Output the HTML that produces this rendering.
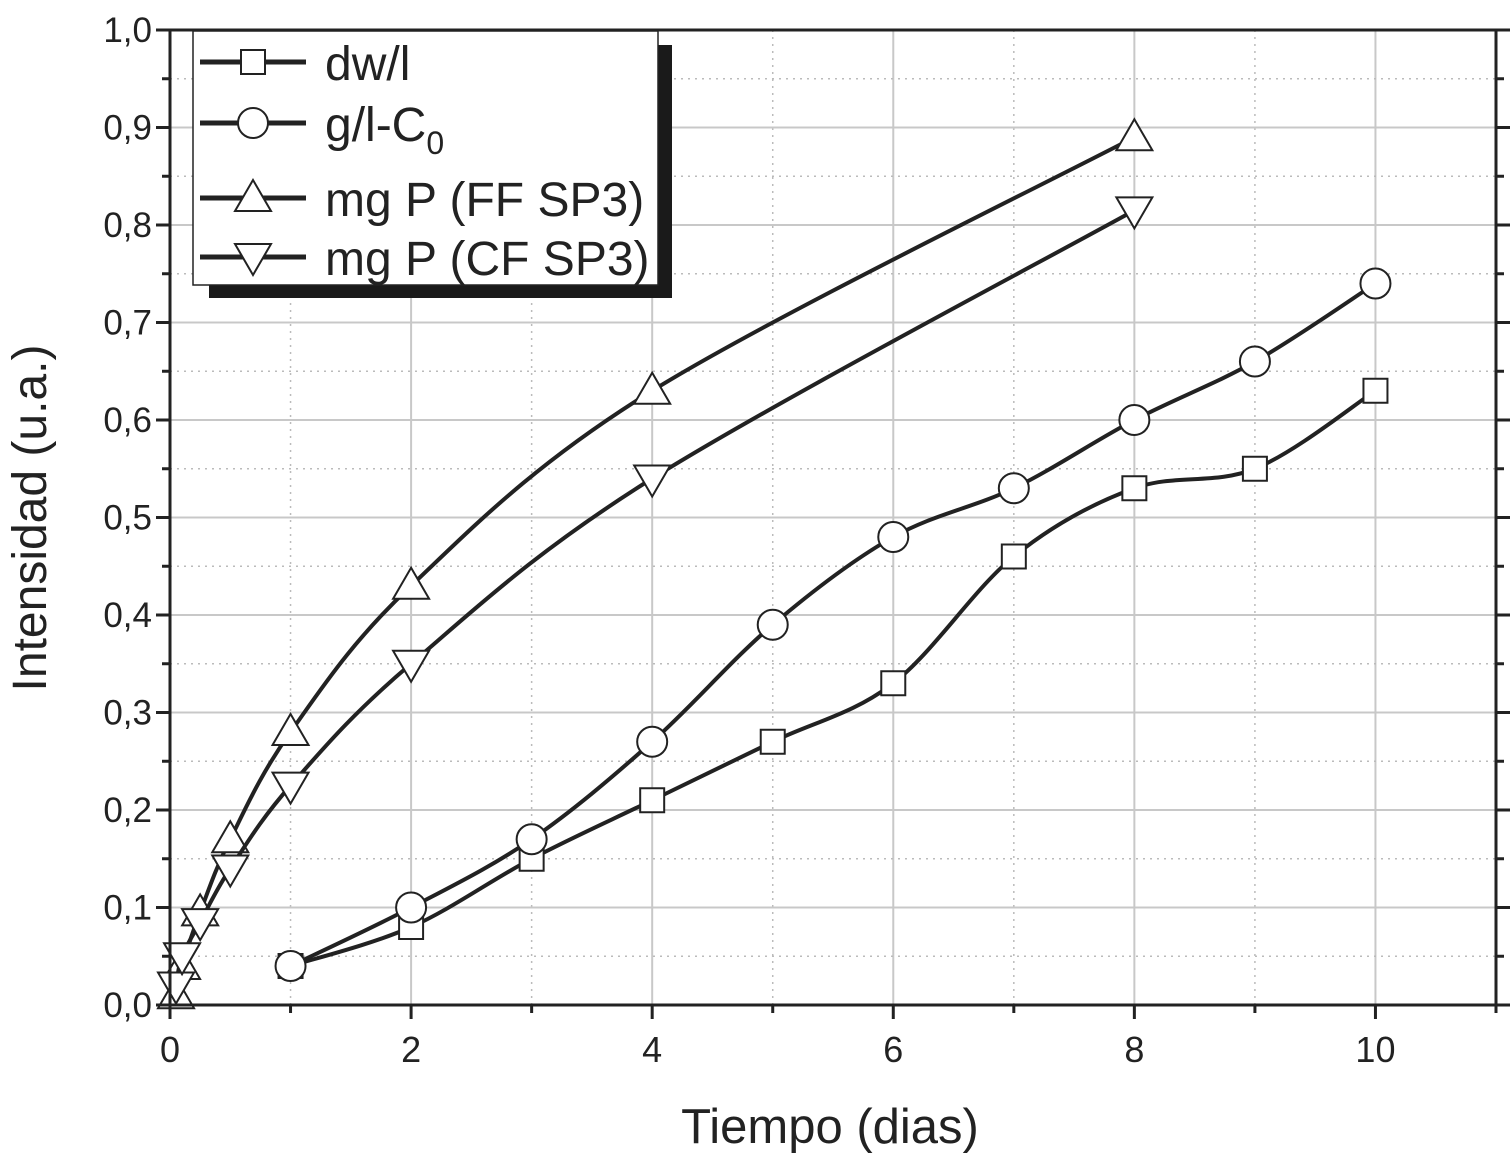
<!DOCTYPE html>
<html><head><meta charset="utf-8"><style>
html,body{margin:0;padding:0;background:#fff}
svg{display:block;font-family:"Liberation Sans",Arial,sans-serif}
</style></head><body>
<svg id="chart" width="1511" height="1153" viewBox="0 0 1511 1153">
<g id="grid"></g>
<g id="series"></g>
<g id="axes"></g>
<g id="legend">
<rect x="209" y="45" width="463" height="253" fill="#1a1a1a"/>
<rect x="193" y="31" width="465" height="254" fill="#fff" stroke="#222" stroke-width="1.5"/>
</g>
<text x="830" y="1143" font-size="49" text-anchor="middle" fill="#222">Tiempo (dias)</text>
<text transform="translate(46,518) rotate(-90)" font-size="48" text-anchor="middle" fill="#222">Intensidad (u.a.)</text>
</svg>
<script>
const seriesNames = ["dw/l","g/l-C0","mg P (FF SP3)","mg P (CF SP3)"];
const seriesMarkers = ["square","circle","up","down"];
const xDw = [1,2,3,4,5,6,7,8,9,10];
const yDw = [0.04,0.08,0.15,0.21,0.27,0.33,0.46,0.53,0.55,0.63];
const xGl = [1,2,3,4,5,6,7,8,9,10];
const yGl = [0.04,0.10,0.17,0.27,0.39,0.48,0.53,0.60,0.66,0.74];
const xFF = [0.05,0.1,0.25,0.5,1,2,4,8];
const yFF = [0.01,0.04,0.095,0.17,0.28,0.43,0.63,0.89];
const xCF = [0.05,0.1,0.25,0.5,1,2,4,8];
const yCF = [0.02,0.05,0.085,0.14,0.225,0.35,0.54,0.815];
const xTicks = [0,2,4,6,8,10];
const yTicks = ["0,0","0,1","0,2","0,3","0,4","0,5","0,6","0,7","0,8","0,9","1,0"];

const NS="http://www.w3.org/2000/svg";
const X0=170,X1=1496,Y0=1005,Y1=30,XMAX=11,YMAX=1;
const sx=v=>X0+(v/XMAX)*(X1-X0);
const sy=v=>Y0-(v/YMAX)*(Y0-Y1);
function mk(tag,attrs,parent){const e=document.createElementNS(NS,tag);for(const k in attrs)e.setAttribute(k,attrs[k]);parent.appendChild(e);return e;}
const grid=document.getElementById('grid'),axes=document.getElementById('axes'),ser=document.getElementById('series'),leg=document.getElementById('legend');
for(let v=1;v<11;v++){const x=sx(v);const major=v%2===0;
 const l=mk('line',{x1:x,x2:x,y1:Y1,y2:Y0,stroke:major?'#c8c8c8':'#bbb','stroke-width':major?2:1.5,'stroke-dasharray':major?'':'2,5'},grid);
 
 }
for(let i=1;i<20;i++){const v=i*0.05;const y=sy(v);const major=i%2===0;
 const l=mk('line',{x1:X0,x2:X1,y1:y,y2:y,stroke:major?'#c8c8c8':'#bbb','stroke-width':major?2:1.5,'stroke-dasharray':major?'':'2,5'},grid);
 
 }
const fr=mk('rect',{x:X0,y:Y1,width:X1-X0,height:Y0-Y1,fill:'none',stroke:'#222','stroke-width':3},axes);


for(let v=0;v<=11;v++){const x=sx(v);const major=(v%2===0);
 mk('line',{x1:x,x2:x,y1:Y0,y2:Y0+(major?14:8),stroke:'#222','stroke-width':3},axes);}
xTicks.forEach(v=>{const t=mk('text',{x:sx(v),y:Y0+57,'font-size':36,'text-anchor':'middle',fill:'#222'},axes);t.textContent=v;
 
 });
for(let i=0;i<=20;i++){const y=sy(i*0.05);const major=i%2===0;
 mk('line',{x1:X0-(major?14:8),x2:X0,y1:y,y2:y,stroke:'#222','stroke-width':3},axes);
 mk('line',{x1:X1,x2:X1+(major?14:8),y1:y,y2:y,stroke:'#222','stroke-width':3},axes);}
yTicks.forEach((s,i)=>{const t=mk('text',{x:X0-18,y:sy(i*0.1)+12,'font-size':35,'text-anchor':'end',fill:'#222'},axes);t.textContent=s;
 
 });
function curve(xs,ys){const p=xs.map((x,i)=>[sx(x),sy(ys[i])]);let d='M'+p[0];
 for(let i=0;i<p.length-1;i++){const a=p[Math.max(0,i-1)],b=p[i],c=p[i+1],e=p[Math.min(p.length-1,i+2)];
  const c1=[b[0]+(c[0]-a[0])/6,b[1]+(c[1]-a[1])/6],c2=[c[0]-(e[0]-b[0])/6,c[1]-(e[1]-b[1])/6];
  d+=' C'+c1+' '+c2+' '+c;}return d;}
function marker(type,x,y,g){const s='#222',w=2;
 if(type==='square')return mk('rect',{x:x-12,y:y-12,width:24,height:24,fill:'#fff',stroke:s,'stroke-width':w},g);
 if(type==='circle')return mk('circle',{cx:x,cy:y,r:15,fill:'#fff',stroke:s,'stroke-width':w},g);
 if(type==='up')return mk('polygon',{points:`${x},${y-18} ${x-18},${y+13} ${x+18},${y+13}`,fill:'#fff',stroke:s,'stroke-width':w},g);
 return mk('polygon',{points:`${x},${y+18} ${x-18},${y-13} ${x+18},${y-13}`,fill:'#fff',stroke:s,'stroke-width':w},g);}
const data=[[xDw,yDw],[xGl,yGl],[xFF,yFF],[xCF,yCF]];
data.forEach(([xs,ys],k)=>{const g=mk('g',{},ser);
 
 
 const p=mk('path',{d:curve(xs,ys),fill:'none',stroke:'#222','stroke-width':4},g);
 
 
 xs.forEach((x,i)=>{const m=marker(seriesMarkers[k],sx(x),sy(ys[i]),g);
  
  });});
const ly=[62,123,198,257];
seriesNames.forEach((n,k)=>{const g=mk('g',{},leg);
 
 
 mk('line',{x1:200,x2:306,y1:ly[k],y2:ly[k],stroke:'#222','stroke-width':5},g);
 marker(seriesMarkers[k],253,ly[k],g);
 const t=mk('text',{x:325,y:ly[k]+18,'font-size':48,fill:'#222'},g);
 if(k===1){t.textContent='g/l-C';const ts=mk('tspan',{'font-size':32,dy:13},t);ts.textContent='0';}
 else t.textContent=n;});
</script>
</body></html>
